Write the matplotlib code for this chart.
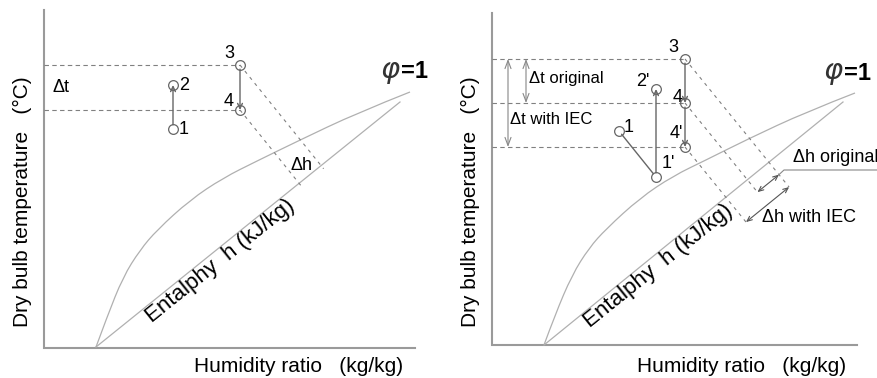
import numpy as np
import matplotlib.pyplot as plt
from matplotlib.path import Path
from matplotlib.patches import PathPatch

plt.rcParams['font.family'] = ['Liberation Sans', 'DejaVu Sans']

W, H = 878, 378

# ---- left panel (pixel positions, y pointing down) ----
frame_L = [(44, 10), (44, 348), (415, 348)]
sat_L = [(96, 347), (107, 317), (123, 277), (140, 250), (157, 230), (190, 200),
         (223, 178), (257, 161), (298, 141), (357, 113), (410, 92)]
enth_L = [(96, 347), (400, 102)]
pts_L = {'1': (173, 129), '2': (173, 85), '3': (240, 65), '4': (240, 110)}

# ---- right panel ----
frame_R = [(492, 13), (492, 345), (857, 345)]
sat_R = [(544, 345), (555, 315), (572, 275), (589, 248), (606, 229), (640, 198),
         (673, 176), (706, 160), (748, 139), (806, 112), (855, 93)]
enth_R = [(544, 345), (843, 102)]
pts_R = {'1': (619, 131), "1'": (656, 177), "2'": (656, 89),
         '3': (685, 59), '4': (685, 103), "4'": (685, 147)}

AXC = '#9a9a9a'
CURVE = '#b0b0b0'
DASH = '#808080'
PT = '#666666'


def smooth(pts):
    pts = np.asarray(pts, float)
    verts, codes = [pts[0]], [Path.MOVETO]
    for i in range(1, len(pts) - 1):
        end = pts[-1] if i == len(pts) - 2 else (pts[i] + pts[i + 1]) / 2
        verts += [pts[i], end]
        codes += [Path.CURVE3, Path.CURVE3]
    return Path(verts, codes)


def perp(p, line, beyond=0.0):
    a, b = np.asarray(line[0], float), np.asarray(line[1], float)
    u = (b - a) / np.linalg.norm(b - a)
    n = np.array([-u[1], u[0]])
    p = np.asarray(p, float)
    d = np.dot(a - p, n)
    return p + n * (d + beyond), n


def arrow(ax, p, q, style='->', color=PT, lw=1.0, sa=3, sb=0, hl=5, hw=2.4):
    # head sizes given in pixels, mutation_scale=1 so they are taken as points
    if style == '-':
        st = '-'
    else:
        st = f'{style},head_length={hl*0.72:.2f},head_width={hw*0.72:.2f}'
    ax.annotate('', xy=q, xytext=p,
                arrowprops=dict(arrowstyle=st, color=color, lw=lw,
                                shrinkA=sa, shrinkB=sb, mutation_scale=1))


def panel(ax, frame, sat, enth, pts, hlines):
    fx, fy = zip(*frame)
    ax.plot(fx, fy, color=AXC, lw=1.5, solid_joinstyle='miter')
    ax.add_patch(PathPatch(smooth(sat), fill=False, color=CURVE, lw=0.9))
    ex, ey = zip(*enth)
    ax.plot(ex, ey, color=CURVE, lw=0.9)
    x0 = frame[0][0]
    for key in hlines:
        px, py = pts[key]
        ax.plot([x0, px], [py, py], color=DASH, lw=0.8, dashes=(4, 3))
    for key, (px, py) in pts.items():
        ax.plot(px, py, 'o', ms=7, mfc='none', mec=PT, mew=0.9, zorder=5)


fig = plt.figure(figsize=(W / 100, H / 100), dpi=100)
ax = fig.add_axes([0, 0, 1, 1])
ax.set_xlim(0, W)
ax.set_ylim(H, 0)
ax.axis('off')

# ---------------- left ----------------
panel(ax, frame_L, sat_L, enth_L, pts_L, ['3', '4'])
arrow(ax, pts_L['1'], pts_L['2'])
arrow(ax, pts_L['3'], pts_L['4'])
for key in ['3', '4']:
    end, _ = perp(pts_L[key], enth_L, 4)
    ax.plot([pts_L[key][0], end[0]], [pts_L[key][1], end[1]],
            color=DASH, lw=0.8, dashes=(3, 4))

for key, (dx, dy, ha) in {'1': (6, 0, 'left'), '2': (6, 0, 'left'),
                          '3': (-6, -11, 'right'), '4': (-6, -8, 'right')}.items():
    ax.text(pts_L[key][0] + dx, pts_L[key][1] + dy, key, fontsize=13,
            ha=ha, va='center')
ax.text(53, 88, 'Δt', fontsize=13, va='center')
ax.text(302, 166, 'Δh', fontsize=13, ha='center', va='center')

# ---------------- right ----------------
panel(ax, frame_R, sat_R, enth_R, pts_R, ['3', '4', "4'"])
arrow(ax, pts_R['1'], pts_R["1'"], style='-', sb=3)
arrow(ax, pts_R["1'"], pts_R["2'"])
arrow(ax, pts_R['3'], pts_R['4'])
arrow(ax, pts_R['4'], pts_R["4'"])

for key, beyond in [('3', 32), ('4', 16), ("4'", 32)]:
    end, n = perp(pts_R[key], enth_R, beyond)
    ax.plot([pts_R[key][0], end[0]], [pts_R[key][1], end[1]],
            color=DASH, lw=0.8, dashes=(3, 4))

# delta h arrows parallel to the enthalpy line
foot3, n = perp(pts_R['3'], enth_R, 0)
foot4, _ = perp(pts_R['4'], enth_R, 0)
foot4p, _ = perp(pts_R["4'"], enth_R, 0)
a0, a1 = foot4 + n * 16, foot3 + n * 16
b0, b1 = foot4p + n * 32, foot3 + n * 32
arrow(ax, a0, a1, style='<->', color='#555555', lw=0.8, sa=0, sb=0, hl=5, hw=2.2)
arrow(ax, b0, b1, style='<->', color='#555555', lw=0.8, sa=0, sb=0, hl=5, hw=2.2)
ax.plot([a1[0], a1[0] + 5, W], [a1[1], 170, 170], color='#888888', lw=0.8)
ax.text(793, 158, 'Δh original', fontsize=13, va='center')
ax.text(762, 218, 'Δh with IEC', fontsize=13, va='center')

# delta t double arrows
arrow(ax, (508, pts_R['3'][1]), (508, pts_R["4'"][1]), style='<->', color='#888888',
      lw=0.8, sa=0, sb=0, hl=8, hw=3)
arrow(ax, (526, pts_R['3'][1]), (526, pts_R['4'][1]), style='<->', color='#888888',
      lw=0.8, sa=0, sb=0, hl=8, hw=3)
ax.text(529, 79, 'Δt original', fontsize=12, va='center')
ax.text(510, 120, 'Δt with IEC', fontsize=12, va='center')

for key, (dx, dy, ha) in {'1': (5, -3, 'left'), "1'": (6, -14, 'left'),
                          "2'": (-6, -7, 'right'), '3': (-7, -11, 'right'),
                          '4': (-2, -6, 'right'), "4'": (-2, -14, 'right')}.items():
    ax.text(pts_R[key][0] + dx, pts_R[key][1] + dy, key, fontsize=13,
            ha=ha, va='center')

# ---------------- shared labels ----------------
ang = np.degrees(np.arctan2(245, 305))
for cx, cy in [(22, 202), (470, 202)]:
    ax.text(cx, cy, 'Dry bulb temperature   (°C)', fontsize=15, rotation=90,
            ha='center', va='center')
for cx, cy in [(299, 367), (742, 366)]:
    ax.text(cx, cy, 'Humidity ratio   (kg/kg)', fontsize=15, ha='center', va='center')
for cx, cy in [(220, 261), (658, 266)]:
    ax.text(cx, cy, 'Entalphy  h (kJ/kg)', fontsize=16, rotation=ang,
            rotation_mode='anchor', ha='center', va='center')
for x0, y0 in [(380, 72), (823, 73)]:
    ax.text(x0, y0, r'$\varphi$', fontsize=21, va='center', color='#333333')
    ax.text(x0 + 21, y0, '=1', fontsize=17, weight='bold', va='center')

fig.savefig('out.png', dpi=100)
